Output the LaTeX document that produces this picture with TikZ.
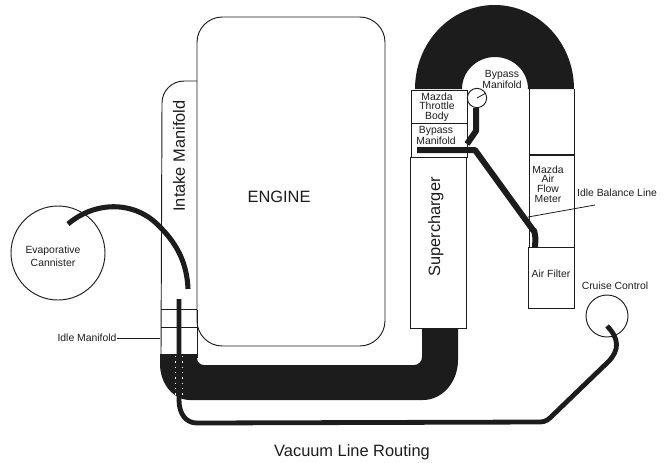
\documentclass[tikz,border=0pt]{standalone}
\usepackage{fontspec}
\setmainfont{Liberation Sans}
\definecolor{ink}{HTML}{1C1C1C}
\tikzset{
  part/.style={draw=ink,line width=0.7pt},
  lead/.style={draw=ink,line width=0.6pt},
  solid pipe/.style={fill=ink,draw=none},
  hose/.style={draw=ink,line width=4.5pt,line cap=butt,line join=round},
  small/.style={font=\fontsize{7.8}{7.2}\selectfont,text=ink,align=center,inner sep=0pt},
  big/.style={font=\fontsize{12.3}{14}\selectfont,text=ink,inner sep=0pt},
  ring/.style={circle,draw=ink,line width=0.7pt,inner sep=0pt},
}
\begin{document}
\begin{tikzpicture}[x=0.75pt,y=-0.75pt]
\useasboundingbox (0,0) rectangle (667,462);
% black lower pipe
\fill[solid pipe] (160,354) -- (197,354) -- (197,358) arc[start angle=180,end angle=90,x radius=7,y radius=7] -- (414,365)
  arc[start angle=90,end angle=0,radius=8] -- (422,328) -- (458,328) -- (458,360)
  arc[start angle=0,end angle=90,x radius=35,y radius=40] -- (190,400)
  arc[start angle=90,end angle=180,x radius=30,y radius=36] -- cycle;
% black arch
\fill[solid pipe] (415,89) arc[start angle=180,end angle=360,x radius=79.5,y radius=84] -- (528,89)
  arc[start angle=0,end angle=-180,x radius=33,y radius=32] -- cycle;
% intake manifold
\draw[part] (197,81) -- (184,81) arc[start angle=-90,end angle=-180,radius=22] -- (161,354);
\draw[part] (161,309) -- (197,309) (161,327) -- (197,327);
% engine
\draw[part,rounded corners=19pt] (197,17) rectangle (385,346);
\draw[part] (197,310) -- (197,358);
% throttle / bypass / supercharger column
\draw[part] (411,90) rectangle (467,157);
\draw[part] (411,123) -- (467,123);
\draw[part] (410,157) rectangle (466,328);
% right column
\draw[part] (529,89) -- (529,247) (574,89) -- (574,247);
\draw[line width=1.4pt,draw=ink] (529,155) -- (574,155);
\draw[part] (528,247) rectangle (574,308);
% round parts
\node[ring,minimum size=70.5pt] (cannister) at (58,253) {};
\node[ring,minimum size=14.5pt,fill=white] (bypassring) at (477,98) {};
\node[ring,minimum size=31.5pt] (cruisering) at (607,316) {};
% hoses
\coordinate (bypassjoin) at (467,144);
\coordinate (rail start) at (417,150);
\coordinate (rail bend) at (475,150);
\coordinate (filter port) at (535,247);
\draw[hose] (bypassring.south) ++(-1,0) -- (476,131) -- (bypassjoin);
\draw[hose] (rail start) -- (rail bend) -- (533,230) to[out=60,in=-90] (535.5,238) -- (filter port);
\coordinate (cannister port) at (68,224);
\coordinate (intake port) at (188,289);
\draw[hose,line width=3.8pt] (cannister port) .. controls (95,201) and (135,200) .. (160,227) .. controls (176,243) and (187,262) .. (intake port);
\coordinate (vac top) at (179,299);
\coordinate (cruise port) at (607,326);
\draw[draw=ink,line width=3.6pt,line join=round] (vac top) -- (179,400) .. controls (179,414) and (186,423) .. (197,423)
  -- (540,422) .. controls (546,422) and (549,419) .. (553,415) -- (608,362) .. controls (620,350) and (619,338) .. (cruise port);
\draw[white,line width=0.7pt,dash pattern=on 1pt off 3pt] (175.6,356) -- (175.6,398) (182.4,356) -- (182.4,398);
% labels
\node[big] (engine) at (279,197) {ENGINE};
\node[big,rotate=90] (intake) at (179,156) {Intake Manifold};
\node[big,rotate=90] (super) at (436,227) {Supercharger};
\node[big] (title) at (352,452) {Vacuum Line Routing};
\node[small] (evap) at (53,256) {Evaporative\\[1.2pt]Cannister};
\node[small] (idle) at (87,338) {Idle Manifold};
\node[small] (throttle) at (437,107) {Mazda\\Throttle\\Body};
\node[small] (bypasslow) at (436,135) {Bypass\\Manifold};
\node[small] (bypasstop) at (502,79) {Bypass\\Manifold};
\node[small] (flow) at (548,184) {Mazda\\Air\\Flow\\Meter};
\node[small] (balance) at (617,193) {Idle Balance Line};
\node[small] (filter) at (551,274) {Air Filter};
\node[small] (cruise) at (615,286) {Cruise Control};
% leaders
\coordinate (idle tip) at (160,338);
\coordinate (balance tip) at (528,217);
\coordinate (balance end) at (595,205);
\draw[lead] (idle.east) -- (idle tip);
\draw[lead] (balance tip) -- (balance end);
\draw[lead] (bypassring.center) -- (486,93);
\end{tikzpicture}
\end{document}
